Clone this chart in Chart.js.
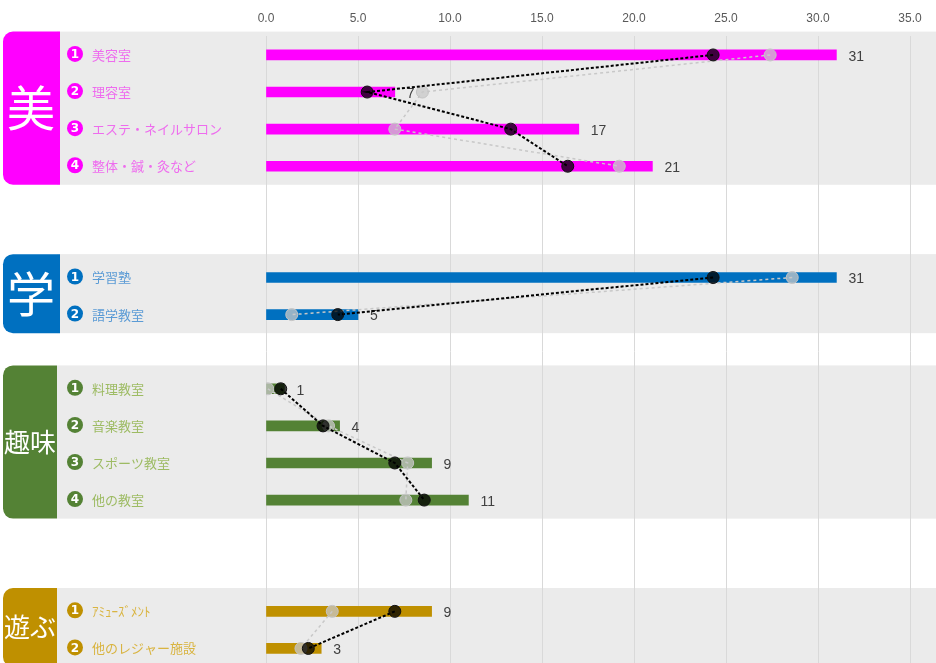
<!DOCTYPE html>
<html>
<head>
<meta charset="utf-8">
<script src="https://cdn.jsdelivr.net/npm/chart.js@4/dist/chart.umd.min.js"></script>
<style>
  html, body { margin: 0; padding: 0; background: #fff; overflow: hidden; }
  .wrap { position: relative; width: 936px; height: 674px; }
</style>
</head>
<body>
<div class="wrap"><canvas id="chart"></canvas></div>
<script>
// rows (empty strings are the gaps between groups)
const categories = ['美容室', '理容室', 'エステ・ネイルサロン', '整体・鍼・灸など', '', '',
  '学習塾', '語学教室', '',
  '料理教室', '音楽教室', 'スポーツ教室', '他の教室', '', '',
  'ｱﾐｭｰｽﾞﾒﾝﾄ', '他のレジャー施設']
const itemNo = [1, 2, 3, 4, 0, 0, 1, 2, 0, 1, 2, 3, 4, 0, 0, 1, 2]
const barValues = [31, 7, 17, 21, null, null, 31, 5, null, 1, 4, 9, 11, null, null, 9, 3]
const blackValues = [24.3, 5.5, 13.3, 16.4, null, null, 24.3, 3.9, null, 0.8, 3.1, 7.0, 8.6, null, null, 7.0, 2.3]
const grayValues = [27.4, 8.5, 7.0, 19.2, null, null, 28.6, 1.4, null, 0.1, 3.4, 7.7, 7.6, null, null, 3.6, 1.9]
const xTicks = [0, 5, 10, 15, 20, 25, 30, 35]

// groups: name, first row, last row
const groupNames = ['美', '学', '趣味', '遊ぶ']
const groupFirst = [0, 6, 9, 15]
const groupLast = [3, 7, 12, 16]

const groupColors = ['#ff00ff', '#0070c0', '#548235', '#bf9000']
const labelColors = ['#ee6cee', '#5b9bd5', '#9dbb63', '#d9b440']
const tagFont = [48, 48, 26, 26]

const rowGroup = categories.map((c, i) => {
  for (let g = 0; g < groupNames.length; g++) if (i >= groupFirst[g] && i <= groupLast[g]) return g
  return -1
})

const FONT = '"Noto Sans CJK JP", "Noto Sans", sans-serif'

const decor = {
  id: 'decor',
  beforeDraw(chart) {
    const ctx = chart.ctx
    const y = chart.scales.y
    const step = y.getPixelForValue(1) - y.getPixelForValue(0)
    ctx.save()
    groupNames.forEach((name, g) => {
      const top = y.getPixelForValue(groupFirst[g]) - step * 0.63
      const bot = y.getPixelForValue(groupLast[g]) + step * 0.5
      ctx.fillStyle = '#ebebeb'
      ctx.fillRect(57, top, chart.width - 57, bot - top)
      ctx.fillStyle = groupColors[g]
      ctx.beginPath()
      ctx.roundRect(3, top, g < 2 ? 57 : 54, bot - top, [10, 0, 0, 10])
      ctx.fill()
      ctx.fillStyle = '#fff'
      ctx.font = tagFont[g] + 'px ' + FONT
      ctx.textAlign = 'center'
      ctx.textBaseline = 'middle'
      ctx.fillText(name, g < 2 ? 31 : 30, (top + bot) / 2)
    })
    ctx.restore()
  },
  afterDraw(chart) {
    const ctx = chart.ctx
    const y = chart.scales.y
    ctx.save()
    categories.forEach((c, i) => {
      const g = rowGroup[i]
      if (g < 0) return
      const py = y.getPixelForValue(i)
      ctx.fillStyle = groupColors[g]
      ctx.beginPath()
      ctx.arc(75, py - 1, 8, 0, Math.PI * 2)
      ctx.fill()
      ctx.fillStyle = '#fff'
      ctx.font = 'bold 12px "DejaVu Sans", sans-serif'
      ctx.textAlign = 'center'
      ctx.textBaseline = 'middle'
      ctx.fillText(String(itemNo[i]), 75, py)
      ctx.fillStyle = labelColors[g]
      ctx.font = '13px ' + FONT
      ctx.textAlign = 'left'
      ctx.fillText(c, 92, py)
    })
    ctx.restore()
  },
  afterDatasetDraw(chart, args) {
    if (args.index !== 2) return
    const ctx = chart.ctx
    const x = chart.scales.x
    const y = chart.scales.y
    ctx.save()
    ctx.fillStyle = '#404040'
    ctx.font = '14px "Liberation Sans", sans-serif'
    ctx.textAlign = 'left'
    ctx.textBaseline = 'middle'
    barValues.forEach((v, i) => {
      if (v == null) return
      ctx.fillText(String(v), x.getPixelForValue(v) + 12, y.getPixelForValue(i) + 2)
    })
    ctx.restore()
  }
}

new Chart(document.getElementById('chart'), {
  type: 'bar',
  data: {
    labels: categories,
    datasets: [
      {
        type: 'line',
        indexAxis: 'y',
        data: blackValues,
        borderColor: '#000',
        borderWidth: 2,
        borderDash: [3, 2],
        pointRadius: 6,
        pointBackgroundColor: 'rgba(0,0,0,0.75)',
        pointBorderColor: '#111',
        pointBorderWidth: 1,
        tension: 0,
        spanGaps: false,
        order: 1
      },
      {
        type: 'line',
        indexAxis: 'y',
        data: grayValues,
        borderColor: '#c8c8c8',
        borderWidth: 1.5,
        borderDash: [3, 3],
        pointRadius: 6,
        pointBackgroundColor: 'rgba(200,200,200,0.75)',
        pointBorderColor: '#c4c4c4',
        pointBorderWidth: 1,
        tension: 0,
        spanGaps: false,
        order: 2
      },
      {
        data: barValues,
        backgroundColor: categories.map((c, i) => rowGroup[i] >= 0 ? groupColors[rowGroup[i]] : 'transparent'),
        barThickness: 10,
        order: 3
      }
    ]
  },
  options: {
    indexAxis: 'y',
    responsive: true,
    maintainAspectRatio: false,
    animation: false,
    layout: { padding: { left: 266, right: 26, top: 0, bottom: 0 } },
    scales: {
      x: {
        position: 'top',
        min: 0,
        max: 35,
        afterBuildTicks: (axis) => { axis.ticks = xTicks.map(v => ({ value: v })) },
        ticks: {
          callback: (v) => Number(v).toFixed(1),
          color: '#595959',
          font: { family: '"Liberation Sans", sans-serif', size: 12 },
          padding: 11,
          maxRotation: 0
        },
        grid: { color: '#d9d9d9', drawTicks: false },
        border: { display: false }
      },
      y: {
        display: false,
        offset: true
      }
    },
    plugins: {
      legend: { display: false },
      tooltip: { enabled: false }
    }
  },
  plugins: [decor]
})
</script>
</body>
</html>
